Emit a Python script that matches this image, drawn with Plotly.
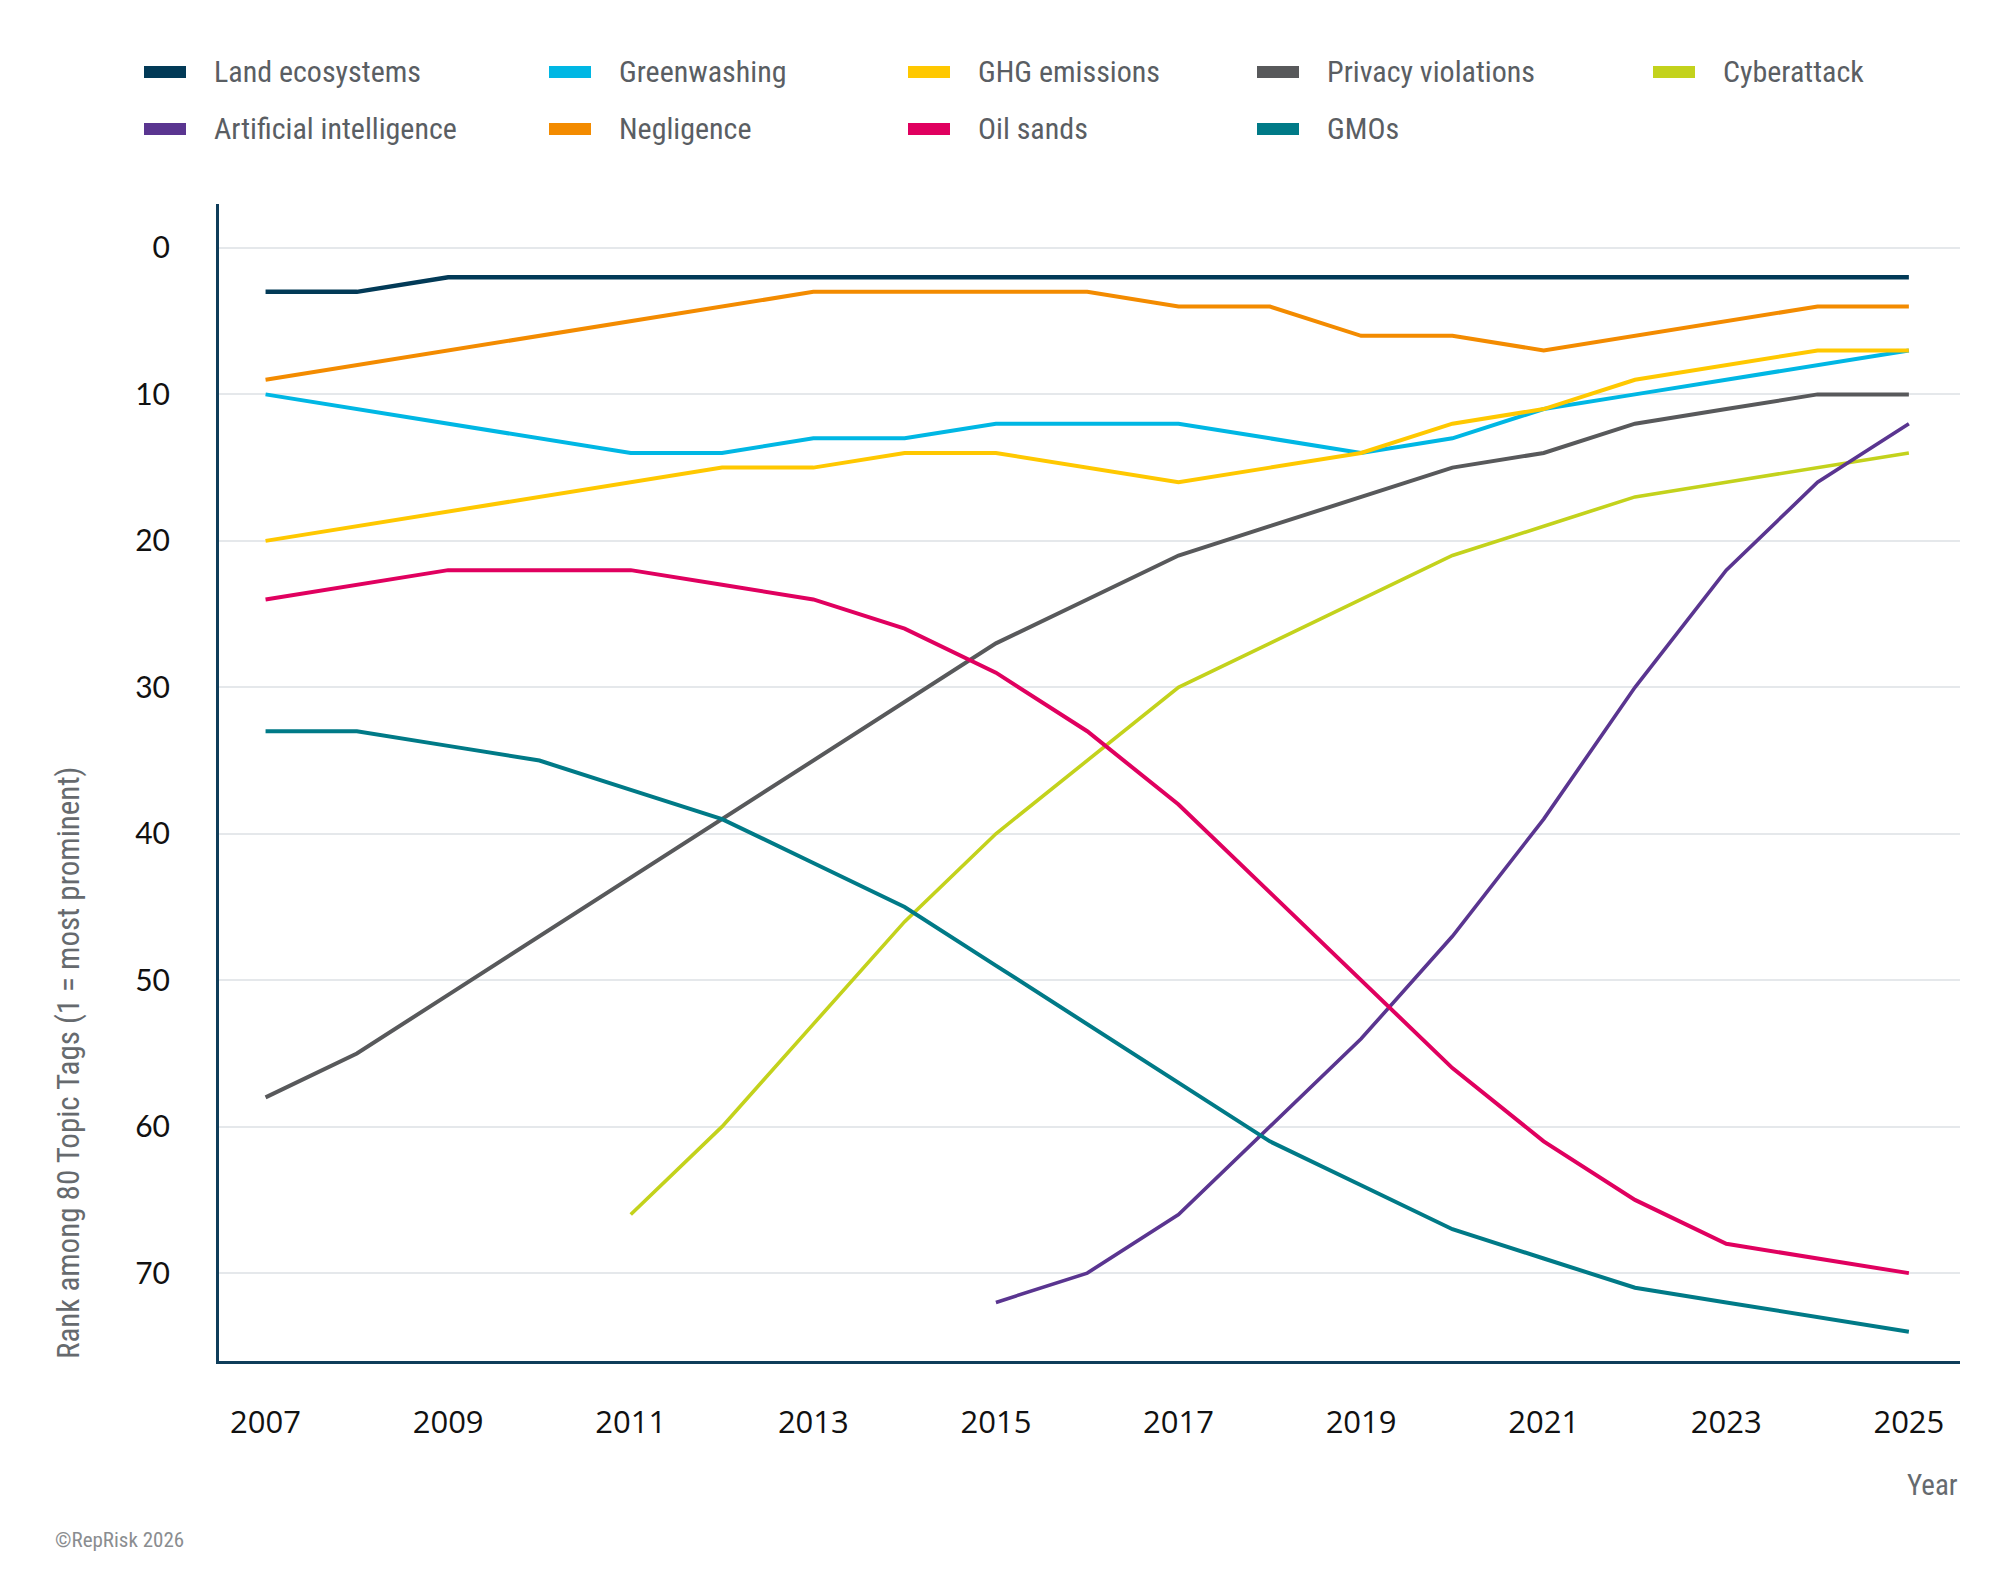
import plotly.graph_objects as go

# Données : rang parmi 80 topic tags (1 = le plus présent)
years = list(range(2007, 2026))

land_ecosystems = [3, 3, 2, 2, 2, 2, 2, 2, 2, 2, 2, 2, 2, 2, 2, 2, 2, 2, 2]
greenwashing = [10, 11, 12, 13, 14, 14, 13, 13, 12, 12, 12, 13, 14, 13, 11, 10, 9, 8, 7]
ghg_emissions = [20, 19, 18, 17, 16, 15, 15, 14, 14, 15, 16, 15, 14, 12, 11, 9, 8, 7, 7]
privacy_violations = [58, 55, 51, 47, 43, 39, 35, 31, 27, 24, 21, 19, 17, 15, 14, 12, 11, 10, 10]
cyberattack = [None, None, None, None, 66, 60, 53, 46, 40, 35, 30, 27, 24, 21, 19, 17, 16, 15, 14]
artificial_intelligence = [None, None, None, None, None, None, None, None,
                           72, 70, 66, 60, 54, 47, 39, 30, 22, 16, 12]
negligence = [9, 8, 7, 6, 5, 4, 3, 3, 3, 3, 4, 4, 6, 6, 7, 6, 5, 4, 4]
oil_sands = [24, 23, 22, 22, 22, 23, 24, 26, 29, 33, 38, 44, 50, 56, 61, 65, 68, 69, 70]
gmos = [33, 33, 34, 35, 37, 39, 42, 45, 49, 53, 57, 61, 64, 67, 69, 71, 72, 73, 74]

x_ticks = [2007, 2009, 2011, 2013, 2015, 2017, 2019, 2021, 2023, 2025]
y_ticks = [0, 10, 20, 30, 40, 50, 60, 70]

# Ordre de la légende (ligne par ligne)
series = [
    ("Land ecosystems", land_ecosystems, "#023a57", 4.5),
    ("Greenwashing", greenwashing, "#00b7e4", 4),
    ("GHG emissions", ghg_emissions, "#ffc800", 4),
    ("Privacy violations", privacy_violations, "#58595b", 4),
    ("Cyberattack", cyberattack, "#c3d21c", 3.6),
    ("Artificial intelligence", artificial_intelligence, "#5a3590", 3.6),
    ("Negligence", negligence, "#f38b00", 4),
    ("Oil sands", oil_sands, "#e0005f", 4),
    ("GMOs", gmos, "#007a87", 4),
]

legend_cols = [136, 541, 900, 1249, 1645]   # pixels
legend_rows = [64, 121]

W, H = 2000, 1580
label_font = "Liberation Sans Narrow, Roboto Condensed, Noto Sans, sans-serif"

fig = go.Figure()

for name, values, color, width in series:
    fig.add_trace(go.Scatter(
        x=years, y=values, name=name, mode="lines",
        line=dict(color=color, width=width),
        showlegend=False,
    ))

# Légende dessinée à la main pour garder les colonnes du modèle
shapes = []
annotations = []
for i, (name, values, color, width) in enumerate(series):
    col = legend_cols[i % 5]
    row = legend_rows[i // 5]
    shapes.append(dict(
        type="rect", xref="paper", yref="paper",
        x0=(col - 211) / 1741, x1=(col + 42 - 211) / 1741,
        y0=(1353 - row - 6) / 1157, y1=(1353 - row + 6) / 1157,
        fillcolor=color, line=dict(width=0),
    ))
    annotations.append(dict(
        text=name, xref="paper", yref="paper",
        x=(col + 68 - 211) / 1741, y=(1353 - row) / 1157,
        xanchor="left", yanchor="middle", showarrow=False,
        font=dict(family=label_font, size=30, color="#5a5e63"),
    ))

annotations.append(dict(
    text="Rank among 80 Topic Tags (1 = most prominent)",
    xref="paper", yref="paper", x=(60 - 211) / 1741, y=0,
    xanchor="center", yanchor="bottom", textangle=-90, showarrow=False,
    font=dict(family=label_font, size=31, color="#666a6e"),
))
annotations.append(dict(
    text="Year", xref="paper", yref="paper", x=1.0, y=(1353 - 1477) / 1157,
    xanchor="right", yanchor="middle", showarrow=False,
    font=dict(family=label_font, size=29, color="#666a6e"),
))
annotations.append(dict(
    text="©RepRisk 2026", xref="paper", yref="paper",
    x=(45 - 211) / 1741, y=(1353 - 1532) / 1157,
    xanchor="left", yanchor="middle", showarrow=False,
    font=dict(family=label_font, size=21, color="#8a8d90"),
))

fig.update_layout(
    width=W, height=H,
    margin=dict(l=211, r=48, t=196, b=227),
    paper_bgcolor="white",
    plot_bgcolor="white",
    shapes=shapes,
    annotations=annotations,
    showlegend=False,
    xaxis=dict(
        range=[2006.49, 2025.56],
        tickmode="array", tickvals=x_ticks,
        tickfont=dict(family="Open Sans, Noto Sans, sans-serif", size=31, color="#111"),
        ticks="", ticklabelstandoff=32,
        showgrid=False, zeroline=False,
        showline=True, linecolor="#0f3d5a", linewidth=3,
    ),
    yaxis=dict(
        range=[76, -3],
        tickmode="array", tickvals=y_ticks,
        tickfont=dict(family="Lato, Noto Sans, sans-serif", size=30, color="#111"),
        ticks="", ticklabelstandoff=40,
        showgrid=True, gridcolor="#e5e8eb", gridwidth=2,
        zeroline=False,
        showline=True, linecolor="#0f3d5a", linewidth=3,
    ),
)

fig.write_html("out.html")
